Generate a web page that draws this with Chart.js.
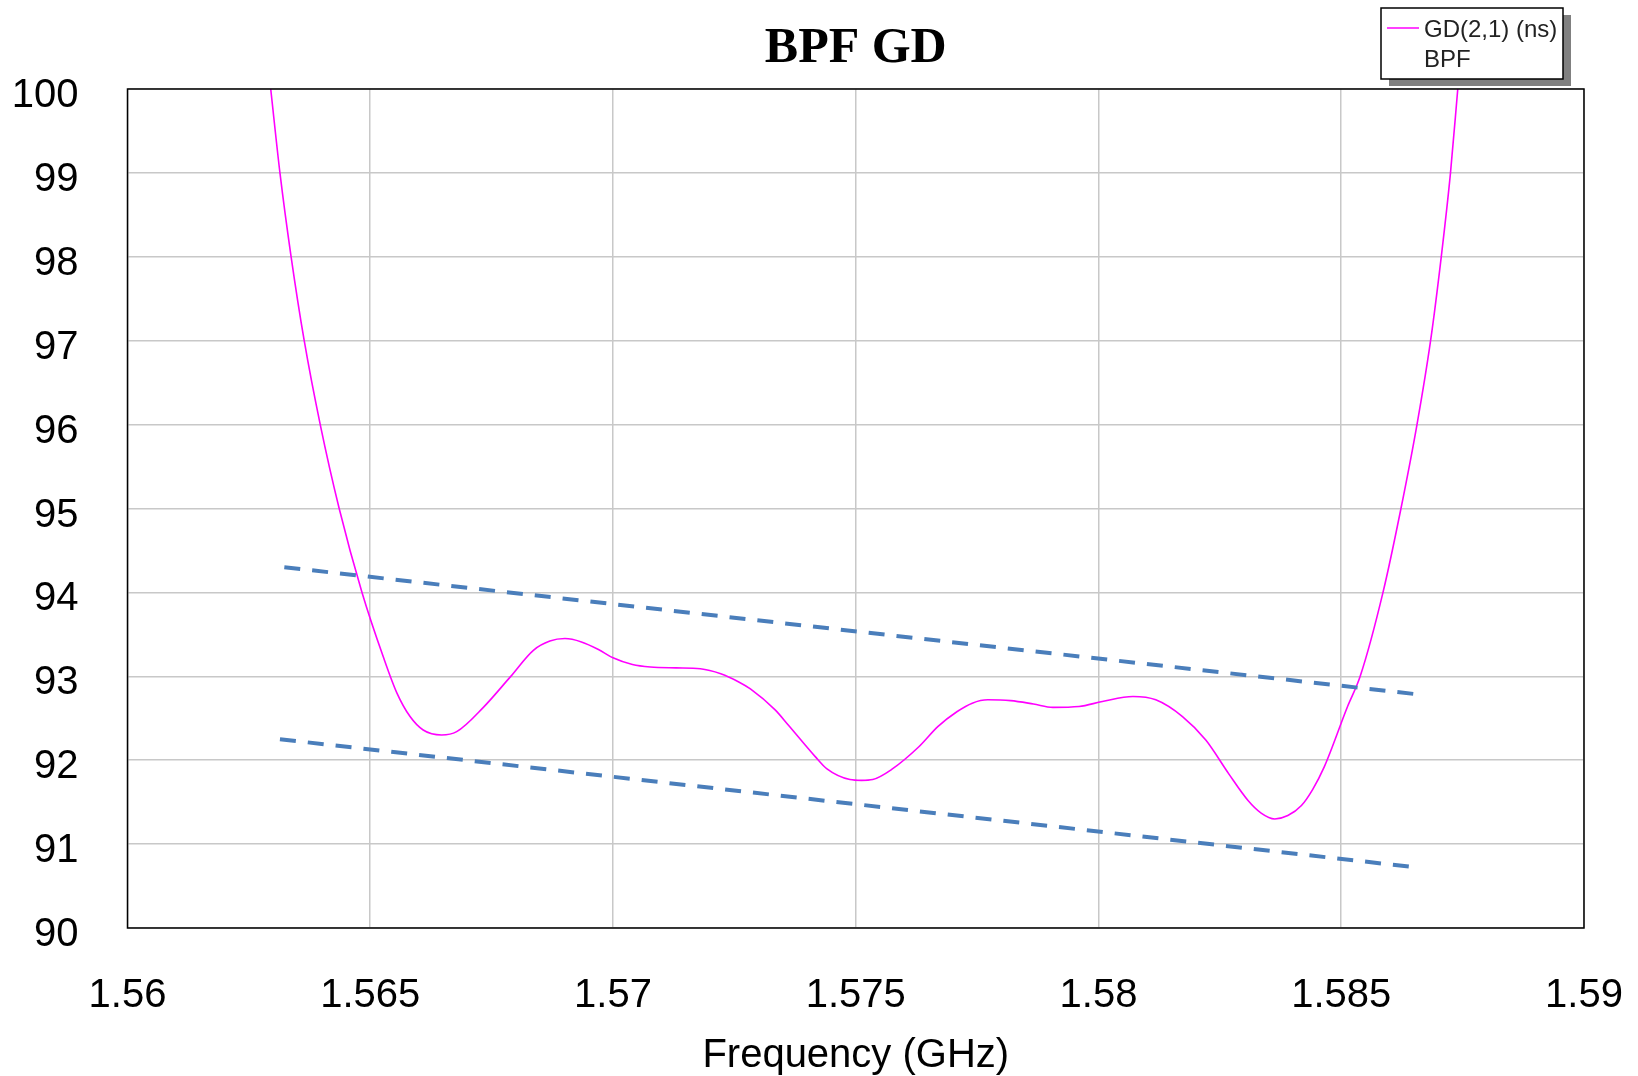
<!DOCTYPE html>
<html>
<head>
<meta charset="utf-8">
<title>BPF GD</title>
<script src="https://cdn.jsdelivr.net/npm/chart.js@4.4.1/dist/chart.umd.min.js"></script>
<style>
  body { margin: 0; background: #fff; }
  #wrap { width: 1638px; height: 1076px; }
</style>
</head>
<body>
<div id="wrap"><canvas id="gdChart" width="1638" height="1076"></canvas></div>
<script>
let freq = [1.56295, 1.56314, 1.56337, 1.56364, 1.56397, 1.56436, 1.56483, 1.56527, 1.56555, 1.56582,
  1.56609, 1.56647, 1.56678, 1.56733, 1.56788, 1.56836, 1.5687, 1.56901, 1.56935, 1.5697,
  1.57, 1.5704, 1.57077, 1.5713, 1.5718, 1.57222, 1.5726, 1.57283, 1.57334, 1.57361,
  1.57417, 1.5744, 1.57488, 1.57512, 1.57535, 1.57574, 1.5763, 1.57669, 1.57709, 1.5774,
  1.57772, 1.57819, 1.57866, 1.57906, 1.5796, 1.58008, 1.58071, 1.58118, 1.58173, 1.58221,
  1.58268, 1.58308, 1.58335, 1.58363, 1.5839, 1.58418, 1.58441, 1.58465, 1.58513, 1.58539,
  1.58586, 1.58623, 1.58656, 1.58684, 1.58706, 1.58725, 1.5874]
let gd = [100, 99, 98, 97, 96, 95, 94, 93.23, 92.8, 92.52,
  92.36, 92.3, 92.34, 92.63, 92.99, 93.31, 93.42, 93.45, 93.41, 93.32,
  93.22, 93.14, 93.11, 93.1, 93.09, 93.03, 92.93, 92.85, 92.6, 92.42,
  92.04, 91.9, 91.77, 91.76, 91.77, 91.89, 92.16, 92.4, 92.58, 92.68,
  92.72, 92.71, 92.67, 92.63, 92.64, 92.7, 92.76, 92.72, 92.52, 92.24,
  91.84, 91.52, 91.37, 91.3, 91.34, 91.46, 91.65, 91.92, 92.64, 93,
  94, 95, 96, 97, 98, 99, 100]

let upperFreq = [1.56323, 1.58649]
let upperGd = [94.3, 92.79]
let lowerFreq = [1.56314, 1.58643]
let lowerGd = [92.25, 90.73]

let xMin = 1.56, xMax = 1.59, xStep = 0.005
let yMin = 90, yMax = 100, yStep = 1

let chartTitle = 'BPF GD'
let xTitle = 'Frequency (GHz)'
let legendLines = ['GD(2,1) (ns)', 'BPF']

const toPoints = (xs, ys) => xs.map((x, i) => ({x: x, y: ys[i]}))

const sansFont = '"Liberation Sans", Arial, sans-serif'
const gridColor = '#c8c8c8'

// frame, title and the boxed legend
const decorations = {
  id: 'decorations',
  afterDraw(chart) {
    const c = chart.ctx
    const a = chart.chartArea
    c.save()
    c.strokeStyle = '#000'
    c.lineWidth = 1.5
    c.strokeRect(a.left, a.top, a.right - a.left, a.bottom - a.top)

    c.fillStyle = '#000'
    c.font = 'bold 50px "Liberation Serif", "Times New Roman", serif'
    c.textAlign = 'center'
    c.textBaseline = 'middle'
    c.fillText(chartTitle, (a.left + a.right) / 2, 49)

    let bx = 1381, by = 8, bw = 182, bh = 71
    c.fillStyle = '#808080'
    c.fillRect(bx + 8, by + 7, bw, bh)
    c.fillStyle = '#fff'
    c.fillRect(bx, by, bw, bh)
    c.strokeStyle = '#000'
    c.lineWidth = 1.5
    c.strokeRect(bx, by, bw, bh)

    c.strokeStyle = '#ff00ff'
    c.lineWidth = 1.5
    c.beginPath()
    c.moveTo(1387, 28)
    c.lineTo(1419, 28)
    c.stroke()

    c.fillStyle = '#222'
    c.font = '24px ' + sansFont
    c.textAlign = 'left'
    c.textBaseline = 'alphabetic'
    c.fillText(legendLines[0], 1424, 37)
    c.fillText(legendLines[1], 1424, 67)
    c.restore()
  }
}

const ctx = document.getElementById('gdChart').getContext('2d')

let chart = new Chart(ctx, {
  type: 'line',
  data: {
    datasets: [
      {
        label: 'upper',
        data: toPoints(upperFreq, upperGd),
        borderColor: '#4a7ebb',
        borderWidth: 4,
        borderDash: [16, 12],
        pointRadius: 0,
        fill: false
      },
      {
        label: 'lower',
        data: toPoints(lowerFreq, lowerGd),
        borderColor: '#4a7ebb',
        borderWidth: 4,
        borderDash: [16, 12],
        pointRadius: 0,
        fill: false
      },
      {
        label: legendLines[0],
        data: toPoints(freq, gd),
        borderColor: '#ff00ff',
        borderWidth: 1.6,
        pointRadius: 0,
        cubicInterpolationMode: 'monotone',
        fill: false
      }
    ]
  },
  options: {
    responsive: false,
    animation: false,
    devicePixelRatio: 1,
    layout: { padding: { left: 0, right: 0, top: 89, bottom: 0 } },
    plugins: {
      legend: { display: false },
      title: { display: false },
      tooltip: { enabled: false }
    },
    scales: {
      x: {
        type: 'linear',
        min: xMin,
        max: xMax,
        afterFit: (s) => {
          s.height = 148
          s.paddingLeft = 0
          s.paddingRight = 54
        },
        grid: { color: gridColor, lineWidth: 1.5, drawTicks: false },
        border: { display: false },
        ticks: {
          stepSize: xStep,
          autoSkip: false,
          maxRotation: 0,
          padding: 44,
          color: '#000',
          font: { family: sansFont, size: 40 },
          callback: (v) => String(Number(v.toFixed(3)))
        },
        title: {
          display: true,
          text: xTitle,
          color: '#000',
          font: { family: sansFont, size: 40, lineHeight: 1 },
          padding: { top: 0, bottom: 0 }
        }
      },
      y: {
        type: 'linear',
        min: yMin,
        max: yMax,
        afterFit: (s) => { s.width = 127.5 },
        grid: { color: gridColor, lineWidth: 1.5, drawTicks: false },
        border: { display: false },
        ticks: {
          stepSize: yStep,
          padding: 49,
          labelOffset: 7,
          color: '#000',
          font: { family: sansFont, size: 40 },
          callback: (v) => String(Math.round(v))
        }
      }
    }
  },
  plugins: [decorations]
})
</script>
</body>
</html>
